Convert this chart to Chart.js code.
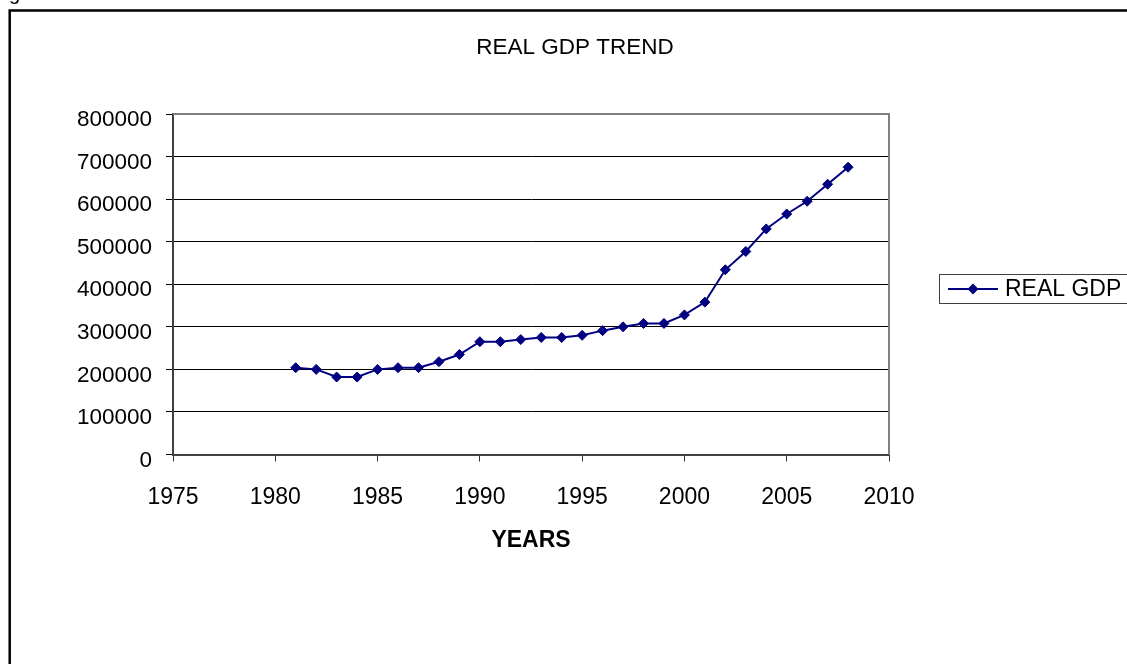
<!DOCTYPE html>
<html>
<head>
<meta charset="utf-8">
<title>REAL GDP TREND</title>
<script src="https://cdn.jsdelivr.net/npm/chart.js@4/dist/chart.umd.min.js"></script>
<style>
    html, body { margin: 0; padding: 0; background: #fff; }
    canvas { display: block; }
</style>
</head>
<body>
<canvas id="chartGdp" width="1127" height="664"></canvas>
<script>
// datos
const years = [1981, 1982, 1983, 1984, 1985, 1986, 1987, 1988, 1989, 1990,
    1991, 1992, 1993, 1994, 1995, 1996, 1997, 1998, 1999, 2000,
    2001, 2002, 2003, 2004, 2005, 2006, 2007, 2008];
const realGdp = [204000, 200000, 182000, 182000, 200000, 204000, 204000, 218000, 235000, 265000,
    265000, 270000, 275000, 275000, 280000, 291000, 300000, 308000, 308000, 328000,
    358000, 434000, 477000, 530000, 565000, 595000, 635000, 675000];
const xTicks = [1975, 1980, 1985, 1990, 1995, 2000, 2005, 2010];
const yTicks = [0, 100000, 200000, 300000, 400000, 500000, 600000, 700000, 800000];
const tituloGrafico = 'REAL GDP TREND';

const FONT = '"Liberation Sans", Arial, sans-serif';
const NAVY = '#000080';
Chart.defaults.font.family = FONT;
Chart.defaults.color = '#000';

// marco exterior, titulo, borde del area y leyenda
const decoracion = {
    id: 'decoracion',
    beforeDraw(chart) {
        const ctx = chart.ctx;
        ctx.save();
        ctx.fillStyle = '#fff';
        ctx.fillRect(0, 0, chart.width, chart.height);
        ctx.fillStyle = '#000';
        ctx.font = `20px ${FONT}`;
        ctx.textBaseline = 'alphabetic';
        ctx.fillText('g', 9, 0);
        ctx.strokeStyle = '#000';
        ctx.lineWidth = 2.5;
        ctx.strokeRect(9.7, 10.5, chart.width + 20, chart.height + 20);
        // titulo centrado sobre todo el objeto grafico
        ctx.font = `22.5px ${FONT}`;
        ctx.textAlign = 'center';
        ctx.textBaseline = 'middle';
        ctx.fillText(tituloGrafico, 575, 47.5);
        ctx.restore();
    },
    beforeDatasetsDraw(chart) {
        const { ctx, chartArea } = chart;
        ctx.save();
        ctx.strokeStyle = '#808080';
        ctx.lineWidth = 2;
        ctx.beginPath();
        ctx.moveTo(chartArea.left, chartArea.top);
        ctx.lineTo(chartArea.right, chartArea.top);
        ctx.lineTo(chartArea.right, chartArea.bottom);
        ctx.stroke();
        ctx.restore();
    },
    afterDraw(chart) {
        const ctx = chart.ctx;
        const ds = chart.data.datasets[0];
        const bx = 939.5, by = 274.5, cy = 289;
        ctx.save();
        ctx.strokeStyle = '#404040';
        ctx.lineWidth = 1;
        ctx.strokeRect(bx, by, 240, 29);
        ctx.strokeStyle = ds.borderColor;
        ctx.lineWidth = 2;
        ctx.beginPath();
        ctx.moveTo(948, cy);
        ctx.lineTo(998, cy);
        ctx.stroke();
        ctx.fillStyle = ds.pointBackgroundColor;
        ctx.beginPath();
        ctx.moveTo(973, cy - 5.5);
        ctx.lineTo(978.5, cy);
        ctx.lineTo(973, cy + 5.5);
        ctx.lineTo(967.5, cy);
        ctx.closePath();
        ctx.fill();
        ctx.fillStyle = '#000';
        ctx.font = `23px ${FONT}`;
        ctx.textBaseline = 'middle';
        ctx.fillText(ds.label, 1005, cy + 1);
        ctx.restore();
    }
};

const chartGdp = new Chart(document.getElementById('chartGdp').getContext('2d'), {
    type: 'line',
    data: {
        datasets: [{
            label: 'REAL GDP',
            data: years.map((year, i) => ({ x: year, y: realGdp[i] })),
            borderColor: NAVY,
            backgroundColor: NAVY,
            pointBackgroundColor: NAVY,
            pointBorderColor: NAVY,
            borderWidth: 2,
            pointStyle: 'rectRot',
            pointRadius: 5,
            pointBorderWidth: 1,
            tension: 0
        }]
    },
    options: {
        responsive: false,
        animation: false,
        devicePixelRatio: 1,
        layout: {
            padding: { left: 0, right: 238, top: 114, bottom: 0 }
        },
        plugins: {
            legend: { display: false },
            tooltip: { enabled: false },
            title: { display: false }
        },
        scales: {
            x: {
                type: 'linear',
                min: 1975,
                max: 2010,
                afterBuildTicks: (scale) => {
                    scale.ticks = xTicks.map(v => ({ value: v }));
                },
                afterFit: (scale) => { scale.height = 209.5; },
                ticks: {
                    font: { size: 23 },
                    color: '#000',
                    padding: 22,
                    callback: (v) => String(v)
                },
                grid: {
                    drawOnChartArea: false,
                    drawTicks: true,
                    tickLength: 7,
                    color: '#333'
                },
                border: { display: true, color: '#404040', width: 2 },
                title: {
                    display: true,
                    text: 'YEARS',
                    color: '#000',
                    font: { size: 23, weight: 'bold' },
                    padding: { top: 0, bottom: 110 }
                }
            },
            y: {
                min: 0,
                max: 800000,
                afterBuildTicks: (scale) => {
                    scale.ticks = yTicks.map(v => ({ value: v }));
                },
                afterFit: (scale) => { scale.width = 173; },
                ticks: {
                    font: { size: 22.5 },
                    color: '#000',
                    padding: 14,
                    labelOffset: 6,
                    callback: (v) => String(v)
                },
                grid: {
                    color: '#000',
                    lineWidth: 1,
                    drawTicks: true,
                    tickLength: 7
                },
                border: { display: true, color: '#404040', width: 2 }
            }
        }
    },
    plugins: [decoracion]
});
</script>
</body>
</html>
